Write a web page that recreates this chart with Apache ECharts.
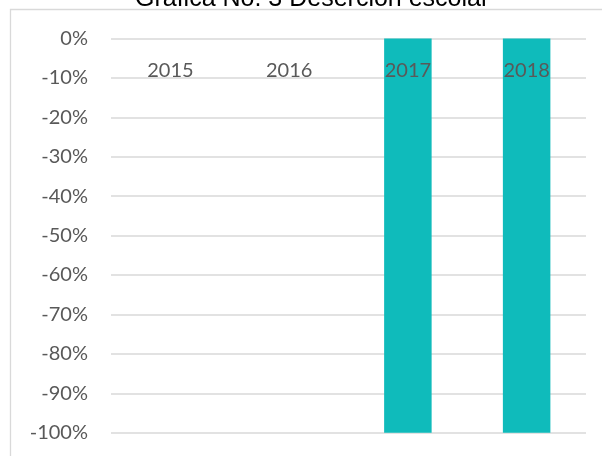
<!DOCTYPE html>
<html>
<head>
<meta charset="utf-8">
<script src="https://cdn.jsdelivr.net/npm/echarts@6/dist/echarts.min.js"></script>
<style>
html,body{margin:0;padding:0;background:#fff;}
#chart{width:602px;height:456px;}
</style>
</head>
<body>
<div id="chart"></div>
<script>
const titleText = 'Gráfica No. 3 Deserción escolar';
const categories = ['2015', '2016', '2017', '2018'];
const values = [0, 0, -1, -1];
const yTicks = { min: -1, max: 0, interval: 0.1 };

const chart = echarts.init(document.getElementById('chart'), null, { renderer: 'canvas' });
chart.setOption({
  animation: false,
  backgroundColor: '#ffffff',
  title: {
    text: titleText,
    left: 130,
    top: -18,
    textStyle: { fontFamily: 'Liberation Sans', fontSize: 25, fontWeight: 'normal', color: '#000000' }
  },
  graphic: [{
    type: 'rect',
    shape: { x: 10.5, y: 9.5, width: 700, height: 600 },
    style: { fill: 'none', stroke: '#d9d9d9', lineWidth: 1.3 },
    silent: true
  }],
  grid: { left: 111, right: 16, top: 38.5, bottom: 23.3, containLabel: false, outerBoundsMode: 'none' },
  xAxis: {
    type: 'category',
    data: categories,
    position: 'top',
    axisLine: { show: false, onZero: false },
    axisTick: { show: false },
    axisLabel: { inside: true, color: '#595959', fontFamily: 'Lato', fontSize: 20, margin: 22 },
    z: 10
  },
  yAxis: {
    type: 'value',
    min: yTicks.min,
    max: yTicks.max,
    interval: yTicks.interval,
    axisLine: { show: false },
    axisTick: { show: false },
    splitLine: { lineStyle: { color: '#d9d9d9', width: 1.5 } },
    axisLabel: {
      color: '#595959', fontFamily: 'Lato', fontSize: 20, margin: 23,
      formatter: v => Math.round(v * 100) + '%'
    }
  },
  series: [{
    type: 'bar',
    data: values,
    barWidth: '40%',
    itemStyle: { color: '#0fbbbb' },
    z: 2
  }]
});
</script>
</body>
</html>
